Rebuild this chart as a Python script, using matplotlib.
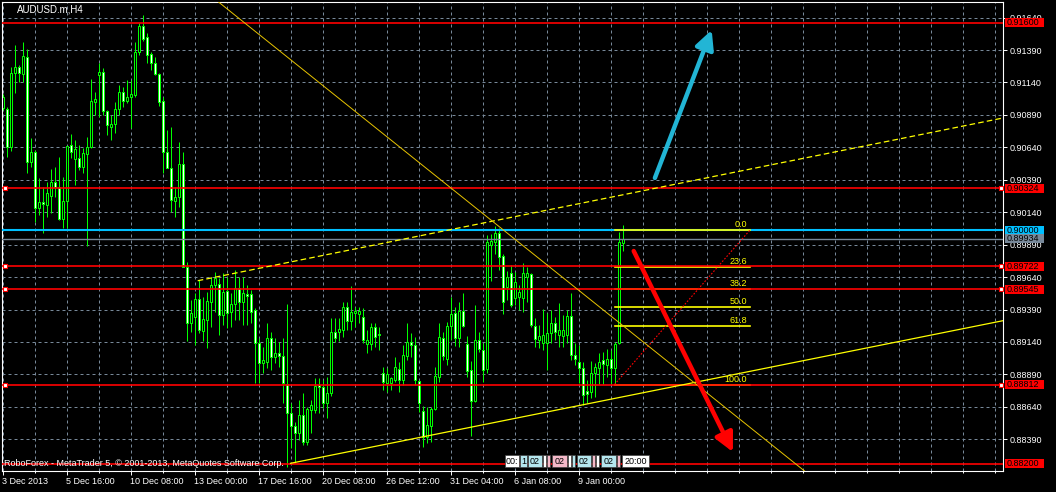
import matplotlib
matplotlib.use("Agg")
import matplotlib.pyplot as plt
import numpy as np
from matplotlib.patches import Rectangle
from matplotlib.ticker import FixedLocator

plt.rcParams['font.family'] = ['Liberation Sans', 'DejaVu Sans']

W, H = 1056, 492
LIME = '#00FF00'
YEL = '#FFFF00'
RED = '#FF0000'
BLUE = '#00BFFF'
GRAY = '#778899'
CYAN = '#22B5D5'

symbol = "AUDUSD.m,H4"
footer = "RoboForex - MetaTrader 5, \u00a9 2001-2013, MetaQuotes Software Corp."

# H4 candles (bar 0 = 3 Dec 2013 00:00)
opens = [0.90940, 0.90932, 0.90639, 0.91210, 0.91256, 0.91205, 0.91333, 0.90529, 0.90606, 0.90169,
         0.90216, 0.90195, 0.90267, 0.90372, 0.90336, 0.90085, 0.90223, 0.90655, 0.90547, 0.90555,
         0.90490, 0.90586, 0.90645, 0.90991, 0.91197, 0.91223, 0.90920, 0.90799, 0.90819, 0.90932,
         0.91063, 0.90997, 0.91025, 0.91043, 0.91377, 0.91575, 0.91492, 0.91359, 0.91287, 0.91205,
         0.90997, 0.90606, 0.90483, 0.90228, 0.90259, 0.90511, 0.89720, 0.89288, 0.89334, 0.89471,
         0.89227, 0.89309, 0.89450, 0.89579, 0.89586, 0.89347, 0.89532, 0.89373, 0.89432, 0.89553,
         0.89450, 0.89509, 0.89507, 0.89386, 0.89134, 0.88975, 0.88988, 0.89168, 0.89021, 0.89052,
         0.89034, 0.88813, 0.88589, 0.88492, 0.88435, 0.88577, 0.88371, 0.88615, 0.88615, 0.88805,
         0.88790, 0.88667, 0.88749, 0.89219, 0.89219, 0.89232, 0.89412, 0.89304, 0.89365, 0.89352,
         0.89329, 0.89121, 0.89121, 0.89252, 0.89198, 0.88898, 0.88821, 0.88821, 0.88846, 0.88931,
         0.88846, 0.89031, 0.89137, 0.89116, 0.88839, 0.88607, 0.88410, 0.88494, 0.88620, 0.88872,
         0.89168, 0.89006, 0.89265, 0.89360, 0.89173, 0.89381, 0.89124, 0.88923, 0.88687, 0.89155,
         0.89078, 0.88931, 0.89887, 0.89913, 0.89977, 0.89802, 0.89566, 0.89674, 0.89476, 0.89483,
         0.89476, 0.89643, 0.89663, 0.89265, 0.89155, 0.89134, 0.89134, 0.89211, 0.89283, 0.89193,
         0.89188, 0.89191, 0.89340, 0.89039, 0.88988, 0.88936, 0.88764, 0.88756, 0.88903, 0.88936,
         0.89001, 0.88962, 0.89008, 0.88936, 0.89129, 0.89905]
highs = [0.91048, 0.90953, 0.91261, 0.91428, 0.91274, 0.91454, 0.91395, 0.90709, 0.90619, 0.90401,
         0.90336, 0.90375, 0.90470, 0.90490, 0.90568, 0.90413, 0.90650, 0.90742, 0.90696, 0.90657,
         0.90632, 0.90722, 0.91164, 0.91069, 0.91287, 0.91248, 0.90927, 0.90889, 0.90991, 0.91120,
         0.91102, 0.91158, 0.91158, 0.91454, 0.91595, 0.91659, 0.91518, 0.91377, 0.91333, 0.91210,
         0.91030, 0.90773, 0.90799, 0.90336, 0.90683, 0.90606, 0.89758, 0.89463, 0.89514, 0.89617,
         0.89489, 0.89527, 0.89643, 0.89681, 0.89630, 0.89668, 0.89643, 0.89514, 0.89694, 0.89643,
         0.89643, 0.89579, 0.89540, 0.89399, 0.89168, 0.89103, 0.89283, 0.89219, 0.89168, 0.89142,
         0.89168, 0.89432, 0.88667, 0.88525, 0.88692, 0.88744, 0.88641, 0.88692, 0.88859, 0.88859,
         0.88846, 0.88872, 0.89322, 0.89322, 0.89322, 0.89450, 0.89450, 0.89571, 0.89412, 0.89406,
         0.89399, 0.89232, 0.89283, 0.89283, 0.89257, 0.88949, 0.88936, 0.88872, 0.89026, 0.88988,
         0.89116, 0.89283, 0.89206, 0.89180, 0.88846, 0.88646, 0.88641, 0.88641, 0.88949, 0.89283,
         0.89219, 0.89296, 0.89489, 0.89412, 0.89450, 0.89514, 0.89185, 0.88995, 0.89424, 0.89219,
         0.89129, 0.89964, 0.89972, 0.90033, 0.90015, 0.89817, 0.89689, 0.89733, 0.89681, 0.89579,
         0.89746, 0.89715, 0.89668, 0.89322, 0.89270, 0.89391, 0.89360, 0.89386, 0.89334, 0.89437,
         0.89347, 0.89386, 0.89514, 0.89129, 0.89116, 0.88988, 0.88846, 0.88995, 0.88975, 0.89052,
         0.89065, 0.89085, 0.89078, 0.89142, 0.89990, 0.90041]
lows = [0.90927, 0.90562, 0.90614, 0.91056, 0.91146, 0.91146, 0.90444, 0.90490, 0.90067, 0.90118,
        0.89977, 0.90100, 0.90131, 0.90259, 0.90079, 0.90015, 0.90015, 0.90555, 0.90349, 0.90465,
        0.90444, 0.89879, 0.90632, 0.90889, 0.90876, 0.90889, 0.90735, 0.90696, 0.90747, 0.90889,
        0.90953, 0.90979, 0.90786, 0.91030, 0.91351, 0.91462, 0.91287, 0.91236, 0.91197, 0.90958,
        0.90444, 0.90478, 0.90144, 0.90100, 0.90182, 0.89715, 0.89149, 0.89219, 0.89116, 0.89206,
        0.89149, 0.89090, 0.89257, 0.89373, 0.89193, 0.89270, 0.89245, 0.89257, 0.89309, 0.89309,
        0.89270, 0.89270, 0.89283, 0.88821, 0.88821, 0.88903, 0.88936, 0.88923, 0.88975, 0.88949,
        0.88667, 0.88178, 0.88320, 0.88204, 0.88384, 0.88345, 0.88345, 0.88435, 0.88589, 0.88589,
        0.88628, 0.88551, 0.88723, 0.89142, 0.89150, 0.89180, 0.89232, 0.89232, 0.89257, 0.89283,
        0.89129, 0.89052, 0.89078, 0.89103, 0.89078, 0.88769, 0.88756, 0.88769, 0.88834, 0.88756,
        0.88808, 0.89001, 0.89026, 0.88808, 0.88602, 0.88327, 0.88358, 0.88371, 0.88615, 0.88834,
        0.89001, 0.88962, 0.89155, 0.89108, 0.89103, 0.89252, 0.88872, 0.88415, 0.88679, 0.89065,
        0.88834, 0.88903, 0.89612, 0.89817, 0.89694, 0.89355, 0.89463, 0.89412, 0.89424, 0.89386,
        0.89373, 0.89450, 0.89257, 0.89103, 0.89090, 0.89078, 0.88923, 0.89129, 0.89155, 0.89103,
        0.89103, 0.89129, 0.89001, 0.88962, 0.88821, 0.88654, 0.88667, 0.88705, 0.88718, 0.88816,
        0.88816, 0.88872, 0.88816, 0.88813, 0.89124, 0.89843]
closes = [0.91030, 0.90639, 0.91210, 0.91256, 0.91210, 0.91343, 0.90529, 0.90606, 0.90169, 0.90216,
          0.90203, 0.90285, 0.90372, 0.90336, 0.90085, 0.90223, 0.90650, 0.90606, 0.90629, 0.90490,
          0.90593, 0.90639, 0.90997, 0.91012, 0.91223, 0.90920, 0.90812, 0.90819, 0.90932, 0.91063,
          0.90997, 0.91030, 0.91048, 0.91377, 0.91575, 0.91472, 0.91351, 0.91287, 0.91205, 0.90991,
          0.90606, 0.90478, 0.90234, 0.90259, 0.90511, 0.89720, 0.89288, 0.89365, 0.89471, 0.89232,
          0.89314, 0.89455, 0.89579, 0.89630, 0.89347, 0.89527, 0.89365, 0.89430, 0.89553, 0.89450,
          0.89514, 0.89494, 0.89373, 0.89129, 0.88975, 0.89001, 0.89168, 0.89021, 0.89052, 0.89031,
          0.88821, 0.88595, 0.88492, 0.88435, 0.88577, 0.88371, 0.88620, 0.88654, 0.88800, 0.88790,
          0.88672, 0.88749, 0.89219, 0.89168, 0.89237, 0.89412, 0.89304, 0.89373, 0.89381, 0.89378,
          0.89155, 0.89155, 0.89252, 0.89180, 0.89191, 0.88834, 0.88893, 0.88859, 0.88944, 0.88846,
          0.89039, 0.89137, 0.89116, 0.88846, 0.88667, 0.88410, 0.88500, 0.88623, 0.88877, 0.89175,
          0.89031, 0.89265, 0.89355, 0.89173, 0.89381, 0.89265, 0.88918, 0.88687, 0.89155, 0.89085,
          0.88923, 0.89907, 0.89920, 0.89977, 0.89792, 0.89450, 0.89638, 0.89424, 0.89599, 0.89527,
          0.89668, 0.89668, 0.89270, 0.89160, 0.89185, 0.89193, 0.89211, 0.89283, 0.89219, 0.89232,
          0.89232, 0.89340, 0.89039, 0.89006, 0.88936, 0.88731, 0.88738, 0.88903, 0.88944, 0.88983,
          0.88967, 0.89008, 0.88936, 0.89121, 0.89913, 0.89934]

date_bars = [0, 16, 32, 48, 64, 80, 96, 112, 128, 144]
date_labels = ["3 Dec 2013", "5 Dec 16:00", "10 Dec 08:00", "13 Dec 00:00", "17 Dec 16:00",
               "20 Dec 08:00", "26 Dec 12:00", "31 Dec 04:00", "6 Jan 08:00", "9 Jan 00:00"]
price_ticks = [0.91640, 0.91390, 0.91140, 0.90890, 0.90640, 0.90390, 0.90140,
               0.89890, 0.89640, 0.89390, 0.89140, 0.88890, 0.88640, 0.88390]

red_levels = [0.91600, 0.90324, 0.89722, 0.89545, 0.88812, 0.88200]
anchored_levels = [0.90324, 0.89722, 0.89545, 0.88812]
blue_level = 0.90000
bid = 0.89934

# trend objects: (bar, price) anchors
channel_top = [(48.8, 0.89612), (250.1, 0.90866)]
channel_bottom = [(72.0, 0.88205), (250.1, 0.89304)]
fall_line = [(54.0, 0.91760), (200.5, 0.88146)]
fib_bars = [153, 186.8]
fib_prices = [0.88812, 0.90000]
fib_levels = [0.0, 23.6, 38.2, 50.0, 61.8, 100.0, 161.8]
arrow_up = [(163.1, 0.90404), (177.3, 0.91544)]
arrow_down = [(157.8, 0.89841), (182.6, 0.88292)]

ylim = (0.881458, 0.917599)
xlim = (-0.125, 250.125)

fig = plt.figure(figsize=(W / 100, H / 100), dpi=100, facecolor='black')
ax = fig.add_axes([2 / W, 21 / H, 1001 / W, 469 / H], facecolor='black')
ax.set_xlim(*xlim)
ax.set_ylim(*ylim)
for s in ax.spines.values():
    s.set_color('white')
    s.set_linewidth(0.8)

px = (ylim[1] - ylim[0]) / 469   # one pixel in price units
LW1 = 0.72                        # one pixel in points

# grid
ax.set_axisbelow(True)
ax.yaxis.tick_right()
ax.set_yticks(price_ticks, [f'{p:.5f}' for p in price_ticks])
ax.set_xticks(date_bars, date_labels)
minor = [b for b in range(8, 250, 8) if b not in date_bars]
ax.xaxis.set_minor_locator(FixedLocator(minor))
for t in ax.get_xticklabels():
    t.set_ha('left')
ax.tick_params(axis='y', colors='white', labelsize=6.5, length=3, width=0.7, pad=1.5)
ax.tick_params(axis='x', which='major', colors='white', labelsize=6.5, length=3, width=0.7, pad=1.5)
ax.tick_params(axis='x', which='minor', colors='white', length=1.5, width=0.7)
ax.grid(True, axis='y', color=GRAY, ls=(0, (3, 3)), lw=LW1)
ax.grid(True, which='both', axis='x', color=GRAY, ls=(0, (3, 3)), lw=LW1)

# candles: lime wick and frame, white (down) or black (up) body
o, hi, lo, c = (np.array(a) for a in (opens, highs, lows, closes))
idx = np.arange(len(o))
ax.vlines(idx, lo, hi, color=LIME, lw=LW1, zorder=2, snap=True)
bear = c < o
body = np.maximum(np.abs(c - o), 0.3 * px)
ax.bar(idx, body, bottom=np.minimum(o, c), width=0.5,
       facecolor=np.where(bear, 'white', 'black'), edgecolor=LIME, lw=LW1,
       zorder=2.1, snap=True)

# horizontal levels
ax.axhline(blue_level, color=BLUE, lw=1.5, zorder=3)
ax.axhline(bid, color=GRAY, lw=1.0, zorder=3)

# fibonacci
span = fib_prices[1] - fib_prices[0]
for lv in fib_levels:
    p = fib_prices[1] - lv / 100 * span
    ax.plot(fib_bars, [p, p], color=YEL, lw=1.2, zorder=3.2)
    ax.annotate(f'{lv:.1f}', (fib_bars[1], p), xytext=(-3, 3), textcoords='offset pixels',
                ha='right', va='baseline', color=YEL, fontsize=6.5, zorder=3.2,
                annotation_clip=False, clip_on=True)
ax.plot(fib_bars, fib_prices, color=RED, lw=0.8, ls=(0, (1.5, 1.5)), zorder=3.2)

for p in red_levels:
    ax.axhline(p, color=RED, lw=1.2, zorder=3.4)

# trend lines
ax.plot(*zip(*channel_top), color=YEL, lw=0.9, ls=(0, (4.5, 2.5)), zorder=3.5)
ax.plot(*zip(*channel_bottom), color=YEL, lw=0.9, zorder=3.5)
ax.plot(*zip(*fall_line), color='#E8C400', lw=0.7, zorder=3.5)

# arrows
for (a, b), col in ((arrow_up, CYAN), (arrow_down, RED)):
    ax.annotate('', xy=b, xytext=a,
                arrowprops=dict(arrowstyle='-|>,head_length=0.8,head_width=0.4', color=col,
                                lw=3.2, shrinkA=0, shrinkB=0, mutation_scale=14), zorder=5)

# anchor squares on the horizontal lines
yt = ax.get_yaxis_transform()
for p in anchored_levels:
    ax.plot([3.3 / 1001, 998.7 / 1001], [p, p], 's', ms=3, mfc='white', mec=RED,
            mew=0.8, transform=yt, clip_on=False, zorder=6)

# price boxes on the right scale
box_h = 9 * px


def price_box(p, face):
    ax.add_patch(Rectangle((1 + 2 / 1001, p - box_h / 2), 39 / 1001, box_h, transform=yt,
                           facecolor=face, edgecolor='none', clip_on=False, zorder=6))
    ax.text(1 + 4 / 1001, p, f'{p:.5f}', transform=yt, color='black', fontsize=6.5,
            va='center', ha='left', clip_on=False, zorder=7)


for p in red_levels:
    price_box(p, RED)
price_box(blue_level, BLUE)
price_box(bid, GRAY)

# time tags of the objects at the bottom
tags = [("00:", 505, 14, 'white'), ("1", 520, 7, '#B4E6EE'), ("02", 528, 14, '#B4E6EE'),
        ("", 543, 3, 'white'), ("", 547, 3, '#F4B8C8'), ("02", 552, 15, '#F4B8C8'),
        ("", 568, 3, 'white'), ("", 572, 3, '#B4E6EE'), ("02", 577, 14, '#B4E6EE'),
        ("", 592, 3, '#F4B8C8'), ("", 596, 3, 'white'), ("02", 601, 15, '#B4E6EE'),
        ("", 617, 3, '#F4B8C8'), ("20:00", 622, 27, 'white')]
for txt, x0, w, col in tags:
    fig.patches.append(Rectangle((x0 / W, 1 - 467 / H), w / W, 12 / H, transform=fig.transFigure,
                                 facecolor=col, edgecolor='#404040', lw=0.5, zorder=8))
    if txt:
        fig.text((x0 + w / 2) / W, 1 - 461 / H, txt, color='black', fontsize=6.5,
                 ha='center', va='center', zorder=9)

fig.text(17 / W, 1 - 9.5 / H, symbol, color='white', fontsize=7, ha='left', va='center')
fig.text(4 / W, 1 - 463 / H, footer, color='white', fontsize=6.5, ha='left', va='center')

fig.savefig('out.png', dpi=100, facecolor='black')
